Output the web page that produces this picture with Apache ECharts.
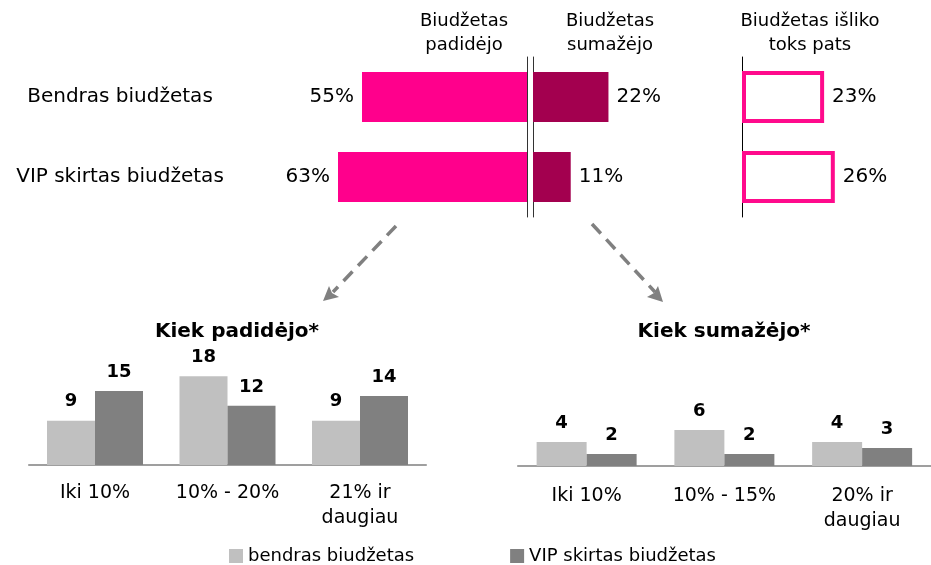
<!DOCTYPE html>
<html>
<head>
<meta charset="utf-8">
<script src="https://cdn.jsdelivr.net/npm/echarts@6/dist/echarts.min.js"></script>
<style>
html,body{margin:0;padding:0;background:#fff;}
#c{width:931px;height:565px;}
</style>
</head>
<body>
<div id="c"></div>
<script>
// ---- data ----
const rows = ['Bendras biudžetas', 'VIP skirtas biudžetas'];
const increased = [55, 63];
const decreased = [22, 11];
const unchanged = [23, 26];
const headers = ['Biudžetas\npadidėjo', 'Biudžetas\nsumažėjo', 'Biudžetas išliko\ntoks pats'];
const upCats = ['Iki 10%', '10% - 20%', '21% ir\ndaugiau'];
const upGeneral = [9, 18, 9];
const upVip = [15, 12, 14];
const downCats = ['Iki 10%', '10% - 15%', '20% ir\ndaugiau'];
const downGeneral = [4, 6, 4];
const downVip = [2, 2, 3];
const seriesNames = ['bendras biudžetas', 'VIP skirtas biudžetas'];
const subTitles = ['Kiek padidėjo*', 'Kiek sumažėjo*'];

const FONT = 'DejaVu Sans';
const chart = echarts.init(document.getElementById('c'), null, {renderer: 'canvas'});

const headerTitle = (text, x) => ({
  text: text, left: x, top: 9, textAlign: 'center', padding: 0,
  textStyle: {fontFamily: FONT, fontSize: 18, fontWeight: 'normal', color: '#000', lineHeight: 24}
});
const subTitle = (text, x) => ({
  text: text, left: x, top: 322, textAlign: 'center', padding: 0,
  textStyle: {fontFamily: FONT, fontSize: 20, fontWeight: 'bold', color: '#000', lineHeight: 20}
});

const hiddenVal = (grid, max, inverse) => ({
  type: 'value', gridIndex: grid, min: 0, max: max, inverse: !!inverse, show: false
});
const rowAxis = (grid, pos, line, labels, lineColor) => ({
  type: 'category', gridIndex: grid, data: rows, inverse: true, position: pos,
  axisLine: {show: line, onZero: false, lineStyle: {color: lineColor || '#333', width: 1}},
  axisTick: {show: false},
  axisLabel: labels ? {show: true, align: 'center', margin: 167, fontFamily: FONT, fontSize: 20, color: '#000'} : {show: false},
  splitLine: {show: false}
});
const catAxis = (grid, data, margin) => ({
  type: 'category', gridIndex: grid, data: data,
  axisLine: {show: true, lineStyle: {color: '#808080', width: 1.5}},
  axisTick: {show: false},
  axisLabel: {fontFamily: FONT, fontSize: 19, color: '#000', lineHeight: 25, margin: margin, interval: 0},
  splitLine: {show: false}
});
const pctLabel = (pos, dist) => ({
  show: true, position: pos, distance: dist, formatter: '{c}%',
  fontFamily: FONT, fontSize: 20, color: '#000'
});
const valLabel = {
  show: true, position: 'top', distance: 10,
  fontFamily: FONT, fontSize: 18, fontWeight: 'bold', color: '#000'
};

const option = {
  animation: false,
  backgroundColor: '#fff',
  textStyle: {fontFamily: FONT},
  title: [
    headerTitle(headers[0], 464),
    headerTitle(headers[1], 610),
    headerTitle(headers[2], 810),
    subTitle(subTitles[0], 237),
    subTitle(subTitles[1], 724)
  ],
  legend: {
    data: seriesNames, left: 229, top: 547, padding: 0, itemGap: 96,
    itemWidth: 14, itemHeight: 14, icon: 'rect',
    textStyle: {fontFamily: FONT, fontSize: 18, color: '#000'}
  },
  grid: [
    {left: 287, width: 240, top: 57, height: 160},
    {left: 533, width: 171.5, top: 57, height: 160},
    {left: 742, width: 178.5, top: 57, height: 160},
    {left: 28.75, width: 397.5, top: 366.4, height: 98.6},
    {left: 517.75, width: 415.5, top: 346, height: 120}
  ],
  xAxis: [
    hiddenVal(0, 80, true),
    hiddenVal(1, 50),
    hiddenVal(2, 50),
    catAxis(3, upCats, 16),
    catAxis(4, downCats, 18)
  ],
  yAxis: [
    rowAxis(0, 'left', false, true),
    rowAxis(0, 'right', true, false),
    rowAxis(1, 'left', true, false),
    rowAxis(2, 'left', true, false, '#000'),
    hiddenVal(3, 20),
    hiddenVal(4, 20)
  ],
  series: [
    {type: 'bar', xAxisIndex: 0, yAxisIndex: 0, data: increased, barWidth: 50,
      itemStyle: {color: '#FF008C'}, label: pctLabel('left', 8)},
    {type: 'bar', xAxisIndex: 1, yAxisIndex: 2, data: decreased, barWidth: 50,
      itemStyle: {color: '#A3004F'}, label: pctLabel('right', 8)},
    {type: 'bar', xAxisIndex: 2, yAxisIndex: 3, data: unchanged, barWidth: 52,
      itemStyle: {color: '#fff', borderColor: '#FF0A8C', borderWidth: 4}, label: pctLabel('right', 8)},
    {type: 'bar', name: seriesNames[0], xAxisIndex: 3, yAxisIndex: 4, data: upGeneral, barWidth: 48, barGap: '0%',
      itemStyle: {color: '#C0C0C0'}, label: valLabel},
    {type: 'bar', name: seriesNames[1], xAxisIndex: 3, yAxisIndex: 4, data: upVip, barWidth: 48, barGap: '0%',
      itemStyle: {color: '#808080'}, label: valLabel},
    {type: 'bar', name: seriesNames[0], xAxisIndex: 4, yAxisIndex: 5, data: downGeneral, barWidth: 50, barGap: '0%',
      itemStyle: {color: '#C0C0C0'}, label: valLabel},
    {type: 'bar', name: seriesNames[1], xAxisIndex: 4, yAxisIndex: 5, data: downVip, barWidth: 50, barGap: '0%',
      itemStyle: {color: '#808080'}, label: valLabel}
  ],
  graphic: [
    {type: 'line', shape: {x1: 396, y1: 226, x2: 333, y2: 292},
      style: {stroke: '#808080', lineWidth: 3.5, lineDash: [13, 8]}},
    {type: 'polygon', shape: {points: [[323, 301], [329, 286], [332, 293], [339, 297]]},
      style: {fill: '#808080'}},
    {type: 'line', shape: {x1: 592, y1: 224, x2: 655, y2: 292},
      style: {stroke: '#808080', lineWidth: 3.5, lineDash: [13, 8]}},
    {type: 'polygon', shape: {points: [[663, 302], [647, 297], [654, 293], [658, 286]]},
      style: {fill: '#808080'}}
  ]
};
chart.setOption(option);
</script>
</body>
</html>
